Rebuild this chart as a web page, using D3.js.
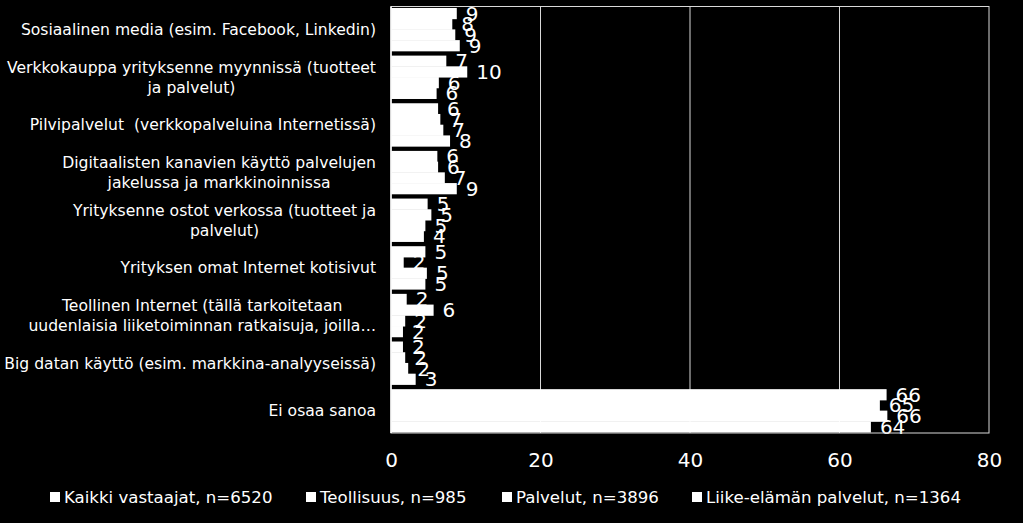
<!DOCTYPE html>
<html>
<head>
<meta charset="utf-8">
<script src="https://cdn.jsdelivr.net/npm/d3@7"></script>
<style>
  body { margin: 0; background: #000; }
  svg { display: block; font-family: "DejaVu Sans", sans-serif; }
</style>
</head>
<body>
<svg id="chart" width="1023" height="523"></svg>
<script>
// categories (line breaks with \n, as in the picture)
const categories = [
  "Sosiaalinen media (esim. Facebook, Linkedin)",
  "Verkkokauppa yrityksenne myynnissä (tuotteet\nja palvelut)",
  "Pilvipalvelut  (verkkopalveluina Internetissä)",
  "Digitaalisten kanavien käyttö palvelujen\njakelussa ja markkinoinnissa",
  "Yrityksenne ostot verkossa (tuotteet ja\npalvelut)",
  "Yrityksen omat Internet kotisivut",
  "Teollinen Internet (tällä tarkoitetaan\nuudenlaisia liiketoiminnan ratkaisuja, joilla…",
  "Big datan käyttö (esim. markkina-analyyseissä)",
  "Ei osaa sanoa"
]
const seriesNames = [
  "Kaikki vastaajat, n=6520",
  "Teollisuus, n=985",
  "Palvelut, n=3896",
  "Liike-elämän palvelut, n=1364"
]
const kaikki = [8.8, 7.4, 6.3, 6.2, 4.9, 4.6, 2.1, 1.6, 66.3]
const teollisuus = [8.2, 10.2, 6.6, 6.3, 5.4, 1.7, 5.7, 1.9, 65.4]
const palvelut = [8.6, 6.4, 7.0, 7.2, 4.6, 4.8, 1.9, 2.3, 66.4]
const liike = [9.2, 6.1, 7.9, 8.8, 4.4, 4.6, 1.6, 3.3, 64.2]
const xTicks = [0, 20, 40, 60, 80]

const allSeries = [kaikki, teollisuus, palvelut, liike]

const margin = { top: 7, right: 34, bottom: 90, left: 391 }
const width = 1023 - margin.left - margin.right
const height = 523 - margin.top - margin.bottom

const svg = d3.select('#chart')
const g = svg.append('g').attr('transform', `translate(${margin.left}, ${margin.top})`)

// scales
const x = d3.scaleLinear().domain([0, 80]).range([0, width])
const y = d3.scaleBand().domain(d3.range(categories.length)).range([0, height])
  .paddingInner(0.1).paddingOuter(0.02)
const y1 = d3.scaleBand().domain(d3.range(seriesNames.length)).range([0, y.bandwidth()])

// gridlines
g.append('g')
  .selectAll('line')
  .data(xTicks.slice(1, -1))
  .enter()
  .append('line')
  .attr('x1', d => x(d)).attr('x2', d => x(d))
  .attr('y1', 0).attr('y2', height)
  .attr('stroke', '#d9d9d9').attr('stroke-width', 1)

// bars
const rows = []
categories.forEach((c, i) => allSeries.forEach((s, j) => rows.push({ cat: i, ser: j, value: s[i] })))

g.append('g')
  .selectAll('rect')
  .data(rows)
  .enter()
  .append('rect')
  .attr('x', 0)
  .attr('y', d => y(d.cat) + y1(d.ser))
  .attr('width', d => x(d.value))
  .attr('height', y1.bandwidth() + 0.5)
  .attr('fill', '#fff')

// data labels
g.append('g')
  .selectAll('text')
  .data(rows)
  .enter()
  .append('text')
  .attr('x', d => x(d.value) + 9)
  .attr('y', d => y(d.cat) + y1(d.ser) + y1.bandwidth() / 2)
  .attr('dy', '0.36em')
  .attr('fill', '#fff')
  .attr('font-size', 20)
  .text(d => Math.round(d.value))

// plot border
g.append('rect')
  .attr('x', 0).attr('y', -0.5)
  .attr('width', width).attr('height', height + 0.5)
  .attr('fill', 'none').attr('stroke', '#d9d9d9').attr('stroke-width', 1)
g.append('line')
  .attr('x1', 0).attr('x2', 0).attr('y1', -0.5).attr('y2', height)
  .attr('stroke', '#fff').attr('stroke-width', 1.5)

// x axis
const bottomAxis = d3.axisBottom(x).tickValues(xTicks).tickSize(0).tickPadding(20)
const xAxis = g.append('g')
  .attr('transform', `translate(0, ${height})`)
  .call(bottomAxis)
xAxis.select('.domain').remove()
xAxis.selectAll('text')
  .attr('fill', '#fff')
  .attr('font-size', 20)
  .attr('font-family', '"DejaVu Sans", sans-serif')

// category labels: block right-aligned, lines centred inside the block
const catLabels = g.append('g')
  .selectAll('text')
  .data(categories)
  .enter()
  .append('text')
  .attr('text-anchor', 'middle')
  .attr('fill', '#fff')
  .attr('font-size', 15.6)
  .style('white-space', 'pre')
catLabels.each(function (d, i) {
  const lines = d.split('\n')
  const lh = 20
  const t = d3.select(this)
  t.selectAll('tspan')
    .data(lines)
    .enter()
    .append('tspan')
    .attr('x', 0)
    .attr('y', (l, k) => (k - (lines.length - 1) / 2) * lh)
    .attr('dy', '0.36em')
    .text(l => l)
  let maxW = 0
  t.selectAll('tspan').each(function () { maxW = Math.max(maxW, this.getComputedTextLength()) })
  t.attr('transform', `translate(${-15 - maxW / 2}, ${y(i) + y.bandwidth() / 2})`)
})

// legend
const legendX = [50, 306, 502, 692]
const legend = svg.append('g')
  .selectAll('g')
  .data(seriesNames)
  .enter()
  .append('g')
  .attr('transform', (d, i) => `translate(${legendX[i]}, 497)`)
legend.append('rect')
  .attr('x', 0).attr('y', -5)
  .attr('width', 10).attr('height', 10)
  .attr('fill', '#fff')
legend.append('text')
  .attr('x', 14)
  .attr('dy', '0.36em')
  .attr('fill', '#fff')
  .attr('font-size', 16.6)
  .text(d => d)
</script>
</body>
</html>
